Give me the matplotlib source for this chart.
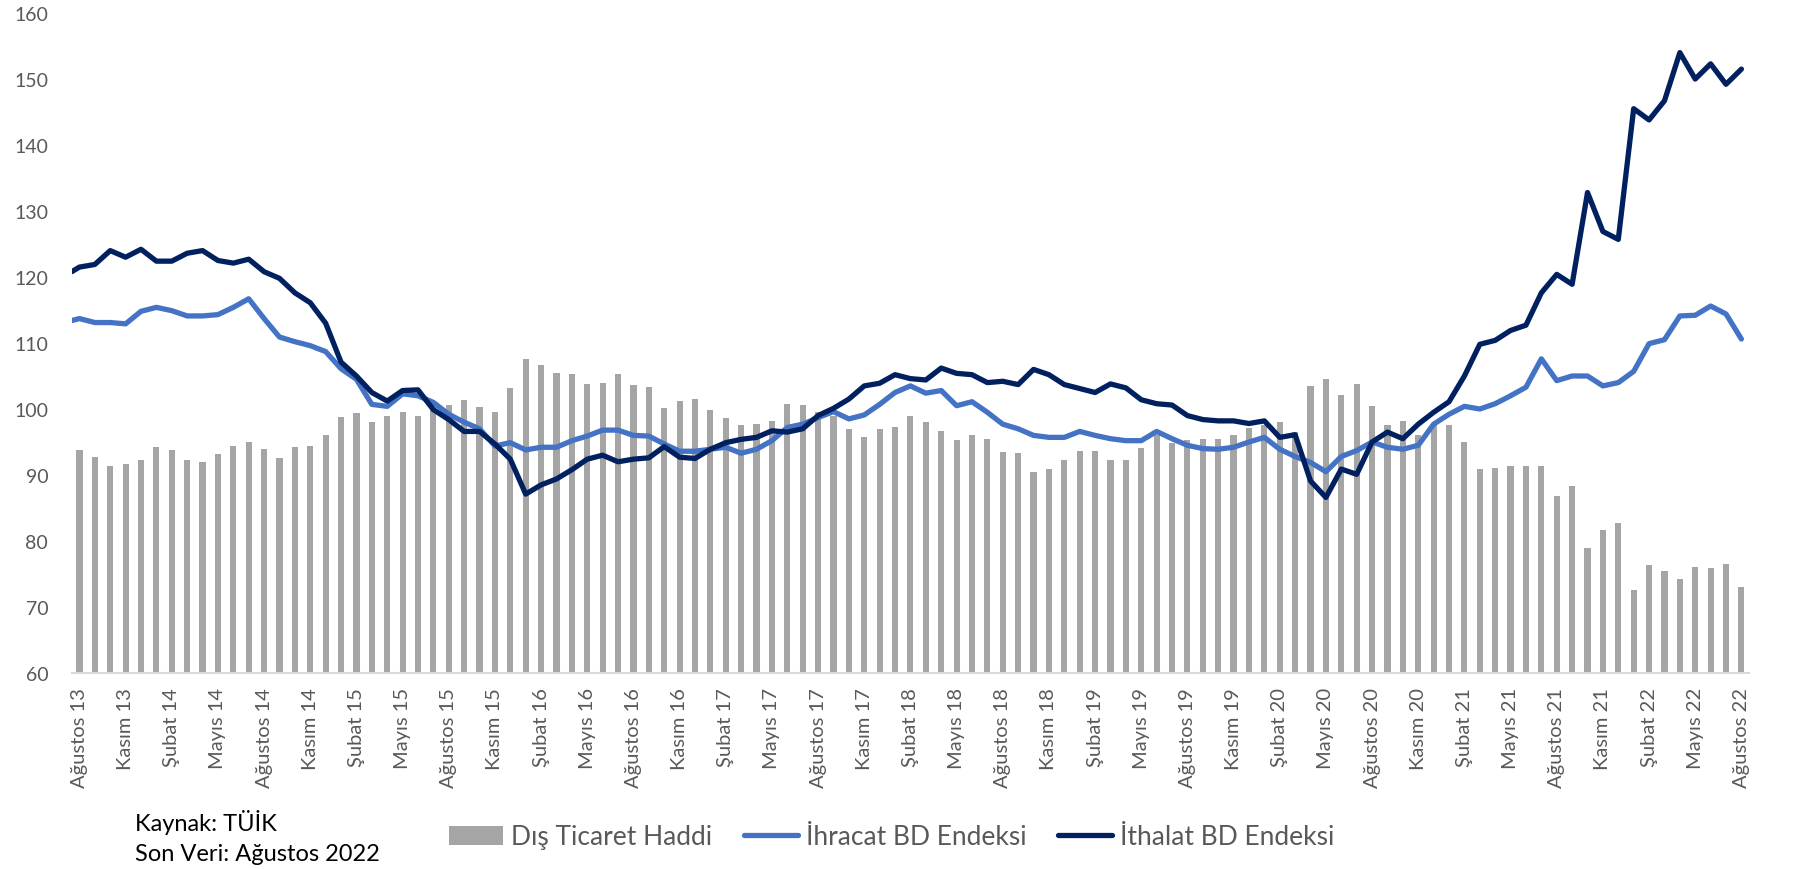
import matplotlib
matplotlib.use("Agg")
import matplotlib.pyplot as plt
import numpy as np

plt.rcParams['font.family'] = ['Lato', 'DejaVu Sans']

# Aug 2013 .. Aug 2022, monthly
dis_ticaret = [
    93.8, 92.7, 91.3, 91.6, 92.2, 94.2, 93.8, 92.2, 92.0, 93.2, 94.4, 95.0,
    94.0, 92.6, 94.2, 94.4, 96.1, 98.8, 99.4, 98.0, 99.0, 99.6, 99.0, 100.6,
    100.6, 101.4, 100.3, 99.5, 103.2, 107.5, 106.7, 105.5, 105.3, 103.8, 104.0, 105.3,
    103.7, 103.4, 100.1, 101.2, 101.5, 99.9, 98.6, 97.5, 97.8, 98.2, 100.8, 100.6,
    99.6, 99.0, 97.0, 95.7, 97.0, 97.2, 99.0, 98.0, 96.7, 95.3, 96.1, 95.5,
    93.5, 93.4, 90.5, 90.9, 92.2, 93.6, 93.6, 92.2, 92.2, 94.1, 96.1, 94.9,
    95.3, 95.5, 95.5, 96.1, 97.1, 97.5, 98.0, 96.5, 103.5, 104.5, 102.1, 103.8,
    100.4, 97.5, 98.2, 96.1, 97.5, 97.5, 95.0, 90.9, 91.1, 91.4, 91.4, 91.4,
    86.8, 88.3, 79.0, 81.6, 82.7, 72.6, 76.3, 75.4, 74.2, 76.1, 75.9, 76.5,
    73.0,
]

# line series carry one leading point that sits on the left axis edge
ihracat = [
    113.4,
    113.7, 113.1, 113.1, 112.9, 114.8, 115.4, 114.9, 114.1, 114.1, 114.3, 115.4, 116.7,
    113.7, 110.9, 110.2, 109.6, 108.7, 106.1, 104.5, 100.7, 100.4, 102.3, 102.0, 101.0,
    99.2, 98.0, 97.0, 94.4, 94.9, 93.8, 94.2, 94.2, 95.2, 95.9, 96.8, 96.8,
    96.0, 95.9, 94.7, 93.6, 93.6, 93.9, 94.2, 93.3, 93.9, 95.2, 97.2, 97.7,
    98.7, 99.6, 98.5, 99.1, 100.7, 102.5, 103.5, 102.4, 102.8, 100.5, 101.1, 99.5,
    97.7, 97.0, 96.0, 95.7, 95.7, 96.6, 96.0, 95.5, 95.2, 95.2, 96.6, 95.5,
    94.5, 94.0, 93.9, 94.2, 95.0, 95.7, 93.9, 92.8, 91.9, 90.5, 92.8, 93.7,
    95.0, 94.2, 93.9, 94.5, 97.7, 99.2, 100.4, 100.0, 100.8, 102.0, 103.3, 107.6,
    104.3, 105.0, 105.0, 103.5, 104.0, 105.7, 109.9, 110.5, 114.1, 114.2, 115.6, 114.4,
    110.6,
]

ithalat = [
    120.8,
    121.5, 121.9, 124.0, 123.0, 124.2, 122.4, 122.4, 123.6, 124.0, 122.5, 122.1, 122.7,
    120.8, 119.8, 117.6, 116.1, 113.0, 107.1, 105.0, 102.5, 101.2, 102.8, 102.9, 99.9,
    98.4, 96.6, 96.6, 94.7, 92.4, 87.1, 88.5, 89.4, 90.8, 92.4, 93.0, 92.0,
    92.4, 92.6, 94.3, 92.7, 92.5, 93.9, 94.9, 95.4, 95.7, 96.7, 96.5, 97.0,
    99.0, 100.1, 101.5, 103.5, 103.9, 105.2, 104.6, 104.4, 106.2, 105.4, 105.2, 104.0,
    104.2, 103.7, 106.0, 105.2, 103.7, 103.1, 102.5, 103.8, 103.2, 101.4, 100.8, 100.6,
    99.0, 98.4, 98.2, 98.2, 97.8, 98.2, 95.7, 96.1, 89.1, 86.6, 90.9, 90.1,
    95.0, 96.5, 95.5, 97.7, 99.5, 101.1, 105.0, 109.8, 110.4, 111.9, 112.7, 117.6,
    120.4, 118.9, 132.8, 126.9, 125.7, 145.5, 143.8, 146.7, 154.0, 150.0, 152.3, 149.2,
    151.5,
]

tick_labels = [
    "Ağustos 13", "Kasım 13", "Şubat 14", "Mayıs 14",
    "Ağustos 14", "Kasım 14", "Şubat 15", "Mayıs 15",
    "Ağustos 15", "Kasım 15", "Şubat 16", "Mayıs 16",
    "Ağustos 16", "Kasım 16", "Şubat 17", "Mayıs 17",
    "Ağustos 17", "Kasım 17", "Şubat 18", "Mayıs 18",
    "Ağustos 18", "Kasım 18", "Şubat 19", "Mayıs 19",
    "Ağustos 19", "Kasım 19", "Şubat 20", "Mayıs 20",
    "Ağustos 20", "Kasım 20", "Şubat 21", "Mayıs 21",
    "Ağustos 21", "Kasım 21", "Şubat 22", "Mayıs 22",
    "Ağustos 22",
]

GRAY_TXT = '#595959'

fig = plt.figure(figsize=(17.98, 8.70), dpi=100)
ax = fig.add_axes([0.0399, 0.2253, 0.9329, 0.7586])

x = np.arange(len(dis_ticaret))
x_line = np.concatenate([[-0.5], x])

bars = ax.bar(x, dis_ticaret, width=0.4, color='#A5A5A5', label='Dış Ticaret Haddi', zorder=1)
l1, = ax.plot(x_line, ihracat, color='#4472C4', lw=3.8, label='İhracat BD Endeksi',
              solid_joinstyle='round', solid_capstyle='round', zorder=2)
l2, = ax.plot(x_line, ithalat, color='#002060', lw=3.8, label='İthalat BD Endeksi',
              solid_joinstyle='round', solid_capstyle='round', zorder=3)

ax.set_xlim(-0.5, 108.5)
ax.set_ylim(60, 160)
ax.set_yticks(np.arange(60, 161, 10))
ax.set_xticks(x[::3])
ax.set_xticklabels(tick_labels, rotation=90)
ax.tick_params(axis='both', length=0, colors=GRAY_TXT)
ax.tick_params(axis='y', labelsize=14, pad=17)
ax.tick_params(axis='x', labelsize=14.5, pad=10)

for s in ['top', 'right', 'left']:
    ax.spines[s].set_visible(False)
ax.spines['bottom'].set_color('#D9D9D9')
ax.spines['bottom'].set_linewidth(1.5)

leg = ax.legend([bars, l1, l2], [bars.get_label(), l1.get_label(), l2.get_label()],
                loc='center', bbox_to_anchor=(0.496, 1 - 838 / 870), bbox_transform=fig.transFigure,
                ncol=3, frameon=False, fontsize=19, handlelength=2.05, handleheight=0.74,
                handletextpad=0.3, columnspacing=1.2)
for t in leg.get_texts():
    t.set_color(GRAY_TXT)

fig.text(135 / 1798, 1 - 823 / 870, 'Kaynak: TÜİK', fontsize=17, va='center', color='black')
fig.text(135 / 1798, 1 - 855 / 870, 'Son Veri: Ağustos 2022', fontsize=17, va='center', color='black')

fig.savefig('out.png', dpi=100)
